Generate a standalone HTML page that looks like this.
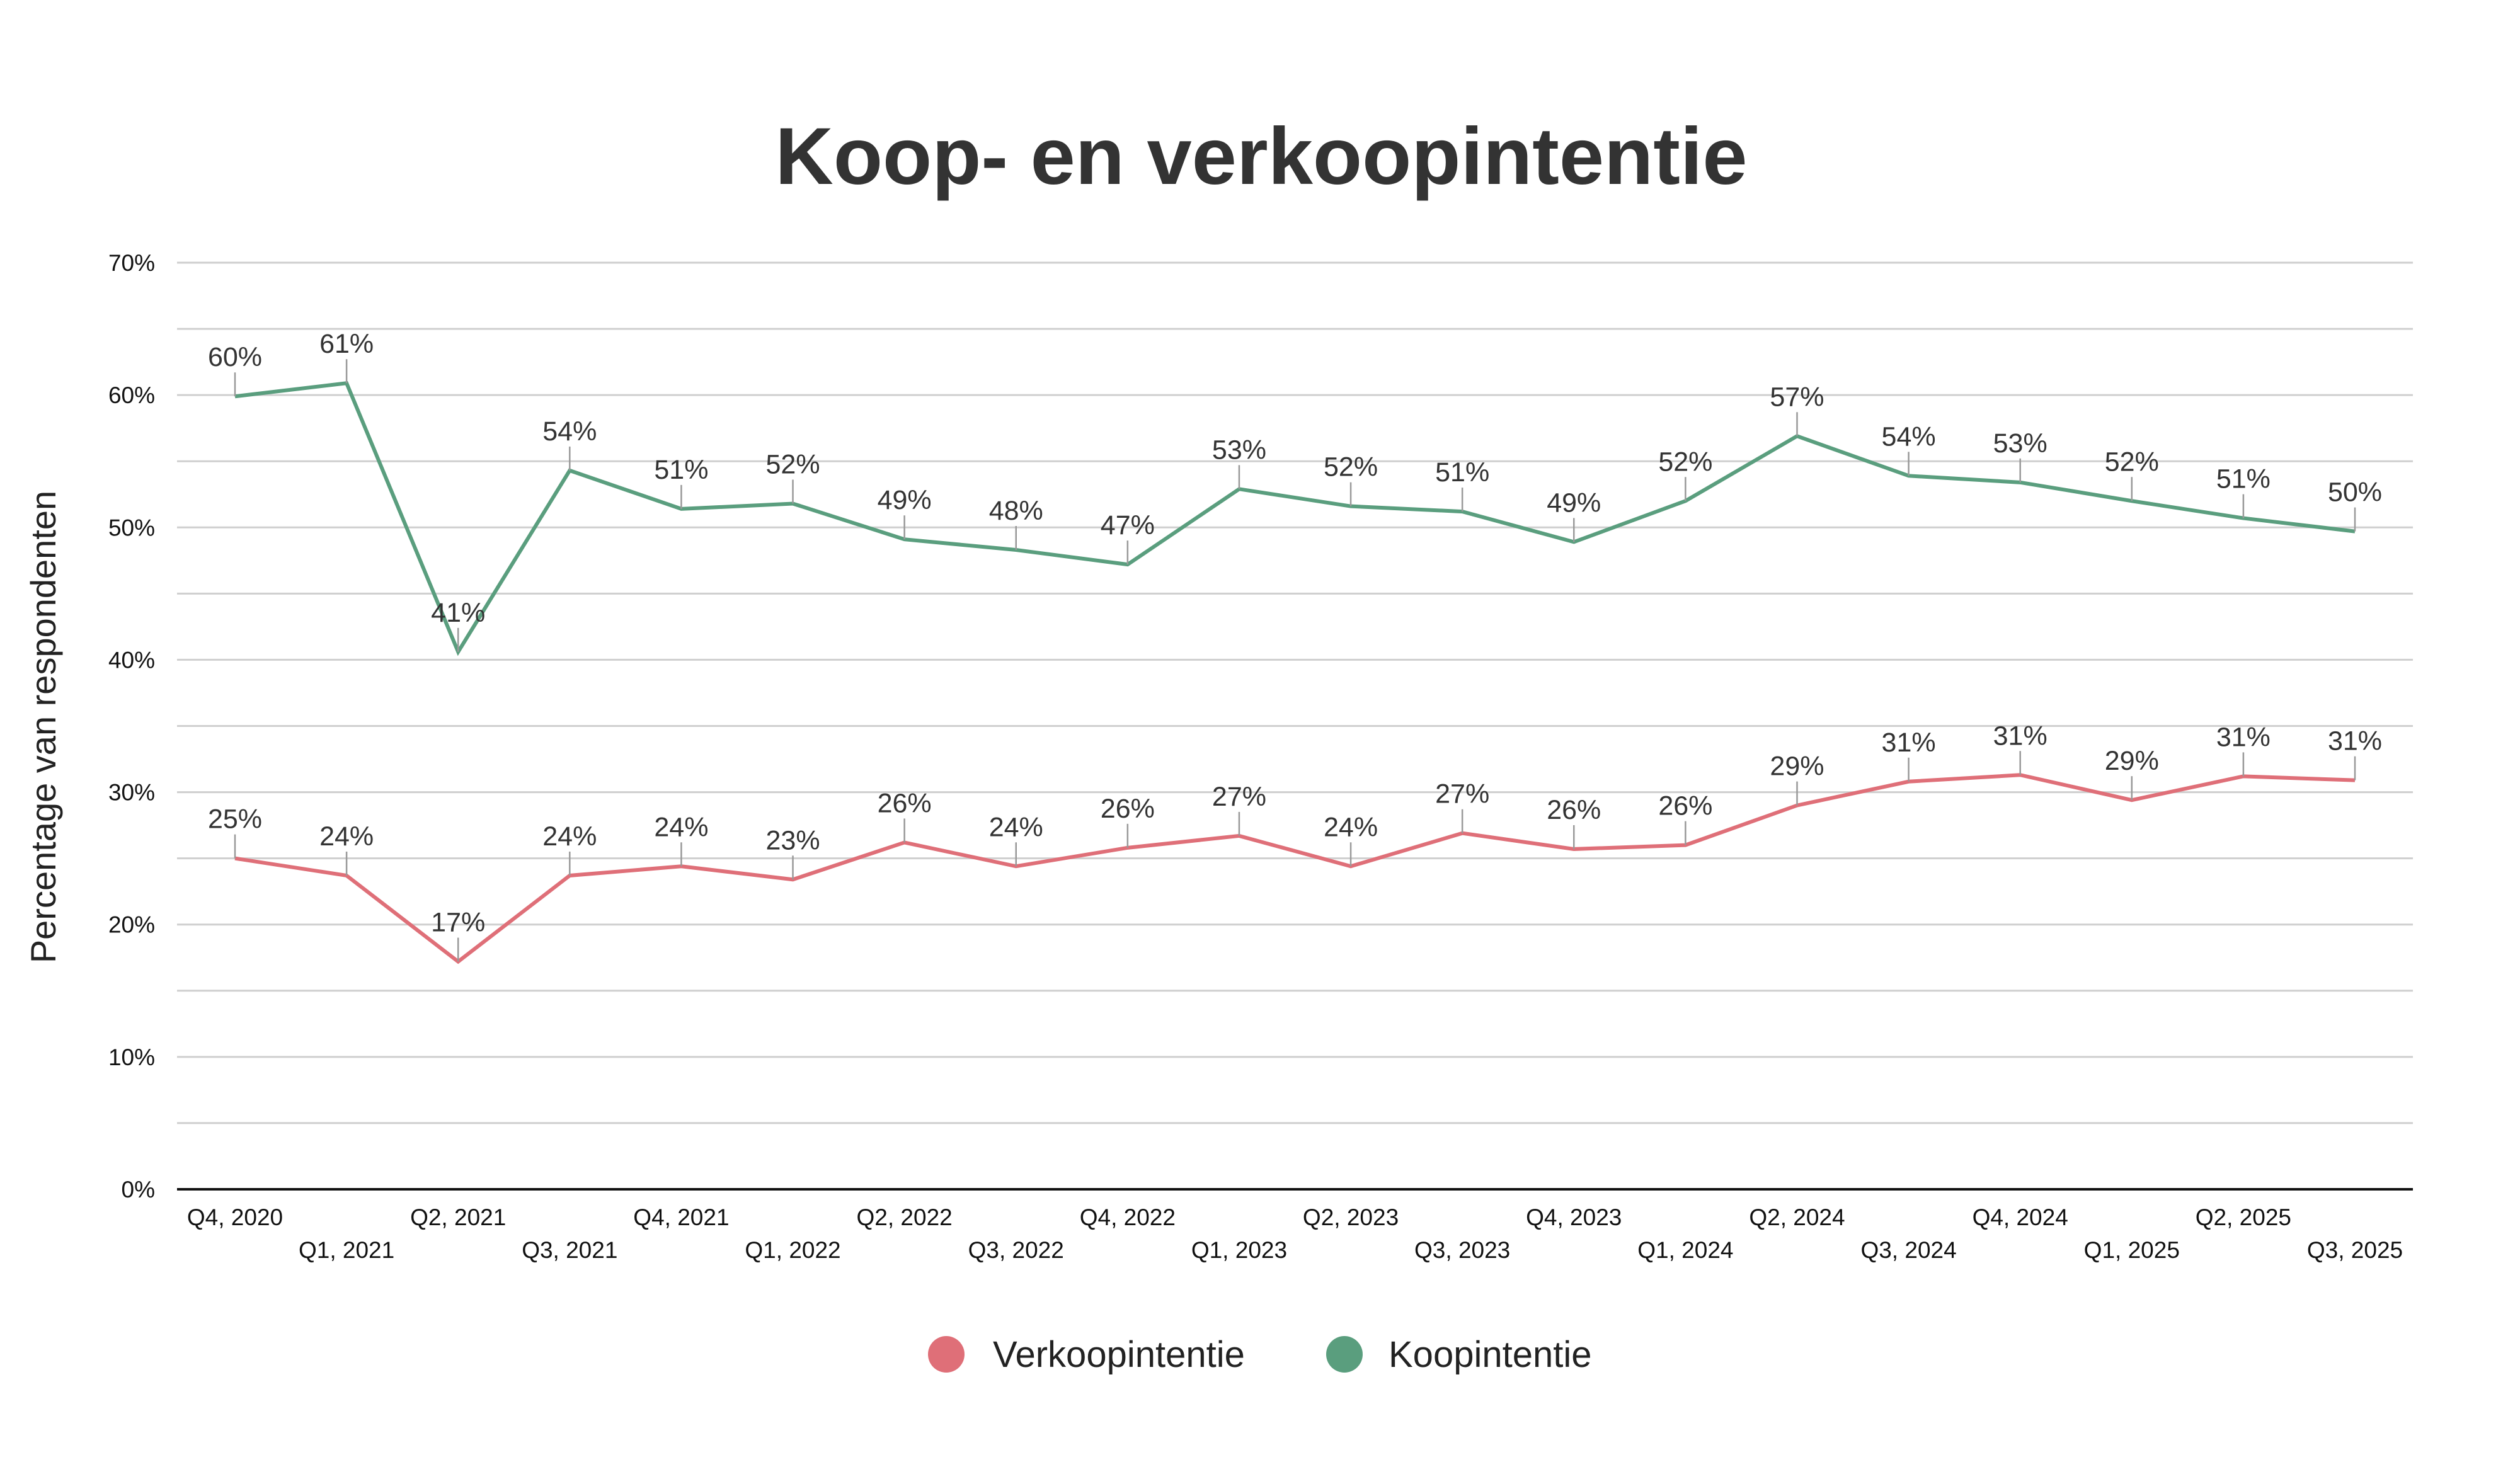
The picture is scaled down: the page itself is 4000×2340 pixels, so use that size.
<!DOCTYPE html>
<html><head><meta charset="utf-8"><style>
html,body{margin:0;padding:0;background:#fff;}
svg{display:block;}
text{font-family:"Liberation Sans",sans-serif;}
</style></head><body>
<svg id="chart" width="4000" height="2340" viewBox="0 0 4000 2340">
<text x="2002" y="292" text-anchor="middle" font-size="128" font-weight="bold" fill="#333">Koop- en verkoopintentie</text>
<text transform="translate(88,1154) rotate(-90)" text-anchor="middle" font-size="56" fill="#222">Percentage van respondenten</text>
<g id="grid"></g><g id="series"></g><g id="labels"></g>
<g>
<g><circle cx="1502" cy="2150" r="29" fill="#df6f78"/><text x="1576" y="2170" font-size="58" fill="#222">Verkoopintentie</text></g>
<g><circle cx="2134" cy="2150" r="29" fill="#5a9e7e"/><text x="2204" y="2170" font-size="58" fill="#222">Koopintentie</text></g>
</g>
</svg>
<script>
const categories=["Q4, 2020","Q1, 2021","Q2, 2021","Q3, 2021","Q4, 2021","Q1, 2022","Q2, 2022","Q3, 2022","Q4, 2022","Q1, 2023","Q2, 2023","Q3, 2023","Q4, 2023","Q1, 2024","Q2, 2024","Q3, 2024","Q4, 2024","Q1, 2025","Q2, 2025","Q3, 2025"];
const koopValues=[59.9,60.9,40.6,54.3,51.4,51.8,49.1,48.3,47.2,52.9,51.6,51.2,48.9,52.0,56.9,53.9,53.4,52.0,50.7,49.7];
const verkoopValues=[25.0,23.7,17.2,23.7,24.4,23.4,26.2,24.4,25.8,26.7,24.4,26.9,25.7,26.0,29.0,30.8,31.3,29.4,31.2,30.9];
const yTicks=[0,10,20,30,40,50,60,70];
const yGrid=[5,15,25,35,45,55,65];
const NS="http://www.w3.org/2000/svg";
const L=281,R=3830,X0=373,X1=3738,Y0=1888,Y70=417;
const x=i=>X0+(X1-X0)*i/(categories.length-1);
const y=v=>Y0-(Y0-Y70)*v/70;
function mk(tag,attrs,parent){const e=document.createElementNS(NS,tag);for(const k in attrs)e.setAttribute(k,attrs[k]);parent.appendChild(e);return e;}
const grid=document.getElementById('grid'),ser=document.getElementById('series'),lab=document.getElementById('labels');
yGrid.concat(yTicks.filter(t=>t>0)).forEach(t=>{
  const l=mk('line',{x1:L,x2:R,y1:y(t),y2:y(t),stroke:'#cfcfcf','stroke-width':3},grid);
  
  
});
yTicks.forEach(t=>{
  const tx=mk('text',{x:246,y:y(t)+13,'text-anchor':'end','font-size':37,fill:'#111'},grid);
  tx.textContent=t+'%';
  
  
});
const ax=mk('line',{x1:L,x2:R,y1:Y0,y2:Y0,stroke:'#111','stroke-width':4},grid);


categories.forEach((c,i)=>{
  const tx=mk('text',{x:x(i),y:i%2?1997:1945,'text-anchor':'middle','font-size':37,fill:'#111'},grid);
  tx.textContent=c;
  
  
});
function drawSeries(vals,color,name){
  const p=mk('polyline',{points:vals.map((v,i)=>x(i)+','+y(v)).join(' '),fill:'none',stroke:color,'stroke-width':6,'stroke-linejoin':'miter'},ser);
  
  
  vals.forEach((v,i)=>{
    const ld=mk('line',{x1:x(i),x2:x(i),y1:y(v),y2:y(v)-38,stroke:'#999','stroke-width':2.5},lab);
    
    
    const t=mk('text',{x:x(i),y:y(v)-48,'text-anchor':'middle','font-size':43,fill:'#333'},lab);
    t.textContent=Math.round(v)+'%';
    
    
  });
}
drawSeries(koopValues,'#5a9e7e','koopintentie');
drawSeries(verkoopValues,'#df6f78','verkoopintentie');
</script>
</body></html>
